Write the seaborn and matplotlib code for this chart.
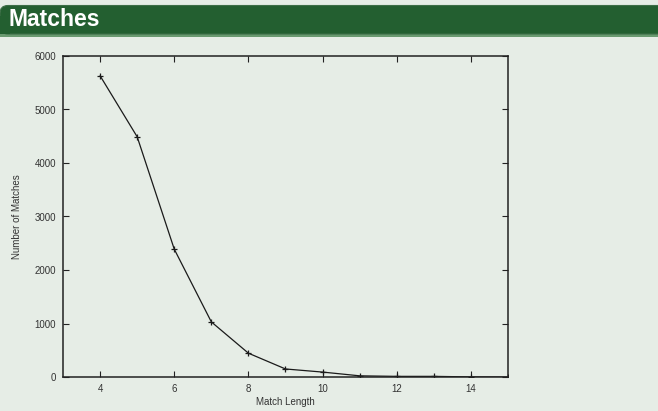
import matplotlib
matplotlib.use("Agg")
import matplotlib.pyplot as plt
from matplotlib.patches import FancyBboxPatch, Rectangle
import seaborn as sns
import pandas as pd

# values
match_length = [4, 5, 6, 7, 8, 9, 10, 11, 12, 13, 14, 15]
num_matches = [5630, 4490, 2390, 1030, 445, 150, 92, 22, 12, 12, 2, 0]
x_ticks = [4, 6, 8, 10, 12, 14]
y_ticks = [0, 1000, 2000, 3000, 4000, 5000, 6000]

df = pd.DataFrame({"length": match_length, "matches": num_matches})

sns.set_style("ticks")
plt.rcParams["font.family"] = ["Liberation Sans", "DejaVu Sans"]

bg = "#e6ede6"
fig = plt.figure(figsize=(6.58, 4.11), dpi=100, facecolor=bg)

# slide header band
W, H = 658, 411
fig.patches.append(Rectangle((0, 1 - 37 / H), 1, 4 / H, transform=fig.transFigure,
                             facecolor="#6a9a70", edgecolor="none", zorder=0))
fig.patches.append(FancyBboxPatch((0, 1 - 34 / H), 1.1, 28.5 / H,
                                  boxstyle="round,pad=0,rounding_size=0.012",
                                  transform=fig.transFigure, facecolor="#235f30",
                                  edgecolor="#3d6e47", linewidth=0.8, zorder=1,
                                  mutation_aspect=W / H))
fig.patches.append(Rectangle((0, 1 - 34 / H), 10 / W, 18 / H, transform=fig.transFigure,
                             facecolor="#235f30", edgecolor="none", zorder=1))
fig.text(8 / W, 1 - 20 / H, "Matches", color="white", fontsize=16.5, fontweight="bold",
         va="center", ha="left")

ax = fig.add_axes([63 / W, 34 / H, 445 / W, 321 / H])
ax.set_facecolor(bg)

sns.lineplot(data=df, x="length", y="matches", ax=ax, color="#1a1a1a", linewidth=0.9,
             marker="+", markersize=5, markeredgewidth=0.9, markeredgecolor="#1a1a1a")

ax.set_xlim(3, 15)
ax.set_ylim(0, 6000)
ax.set_xticks(x_ticks)
ax.set_yticks(y_ticks)
ax.tick_params(direction="in", length=4, width=0.8, labelsize=7, colors="#222222",
               top=True, right=True, pad=5)
ax.tick_params(axis="x", labelcolor="#333333")
ax.tick_params(axis="y", labelcolor="#333333")
for s in ax.spines.values():
    s.set_linewidth(1.1)
    s.set_color("#222222")
ax.set_xlabel("Match Length", fontsize=7, color="#333333", labelpad=2)
ax.set_ylabel("Number of Matches", fontsize=7, color="#333333", labelpad=9)

fig.savefig("out.png", dpi=100, facecolor=bg)
